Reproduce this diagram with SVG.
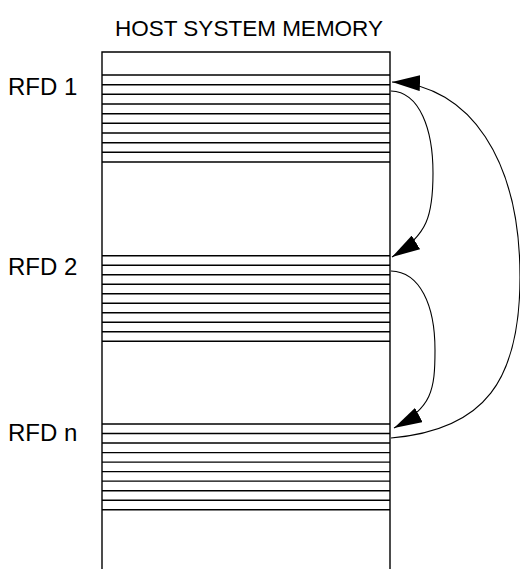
<svg xmlns="http://www.w3.org/2000/svg" width="520" height="569" viewBox="0 0 520 569">
<style>
.t{font-family:"Liberation Sans",Arial,sans-serif;fill:#000}
.bx{stroke:#000;stroke-width:1.4;fill:none}
.ln{stroke:#000;stroke-width:1.4}
.cv{stroke:#000;stroke-width:1.1;fill:none;marker-end:url(#ah)}
</style>
<defs>
<marker id="ah" viewBox="0 0 28 16" refX="28" refY="8" markerWidth="28" markerHeight="16" markerUnits="userSpaceOnUse" orient="auto">
<path d="M0,0 L28,8 L0,16 z" fill="#000"/>
</marker>
</defs>
<rect width="520" height="569" fill="#fff"/>
<g id="title"><text class="t" x="249" y="36" font-size="22.5" text-anchor="middle">HOST SYSTEM MEMORY</text></g>
<g id="memory">
<path class="bx" d="M102,569 V52 H390 V569"/>
</g>
<g id="rfd1">
<text class="t" x="8" y="95" font-size="24">RFD 1</text>
<g class="ln">
<line x1="102" y1="75" x2="390" y2="75"/><line x1="102" y1="84.7" x2="390" y2="84.7"/><line x1="102" y1="94.3" x2="390" y2="94.3"/><line x1="102" y1="104" x2="390" y2="104"/><line x1="102" y1="113.7" x2="390" y2="113.7"/><line x1="102" y1="123.3" x2="390" y2="123.3"/><line x1="102" y1="133" x2="390" y2="133"/><line x1="102" y1="142.7" x2="390" y2="142.7"/><line x1="102" y1="152.3" x2="390" y2="152.3"/><line x1="102" y1="162" x2="390" y2="162"/>
</g>
</g>
<g id="rfd2">
<text class="t" x="8" y="275" font-size="24">RFD 2</text>
<g class="ln">
<line x1="102" y1="255.7" x2="390" y2="255.7"/><line x1="102" y1="265.2" x2="390" y2="265.2"/><line x1="102" y1="274.7" x2="390" y2="274.7"/><line x1="102" y1="284.2" x2="390" y2="284.2"/><line x1="102" y1="293.7" x2="390" y2="293.7"/><line x1="102" y1="303.3" x2="390" y2="303.3"/><line x1="102" y1="312.8" x2="390" y2="312.8"/><line x1="102" y1="322.3" x2="390" y2="322.3"/><line x1="102" y1="331.8" x2="390" y2="331.8"/><line x1="102" y1="341.3" x2="390" y2="341.3"/>
</g>
</g>
<g id="rfdn">
<text class="t" x="8" y="441" font-size="24">RFD n</text>
<g class="ln">
<line x1="102" y1="424" x2="390" y2="424"/><line x1="102" y1="433.5" x2="390" y2="433.5"/><line x1="102" y1="443" x2="390" y2="443"/><line x1="102" y1="452.6" x2="390" y2="452.6"/><line x1="102" y1="462.1" x2="390" y2="462.1"/><line x1="102" y1="471.6" x2="390" y2="471.6"/><line x1="102" y1="481.1" x2="390" y2="481.1"/><line x1="102" y1="490.7" x2="390" y2="490.7"/><line x1="102" y1="500.2" x2="390" y2="500.2"/><line x1="102" y1="509.7" x2="390" y2="509.7"/>
</g>
</g>
<g id="connectors">
<path class="cv" d="M391,91 C420,92 433,130 433,173 C433,215 428,235 392,257"/>
<path class="cv" d="M391,271 C420,272 435,305 435,350 C435,390 432,408 394,428"/>
<path class="cv" d="M391,438 C485,430 520,380 520,277 C520,160 470,85 392,82"/>
</g>
</svg>
